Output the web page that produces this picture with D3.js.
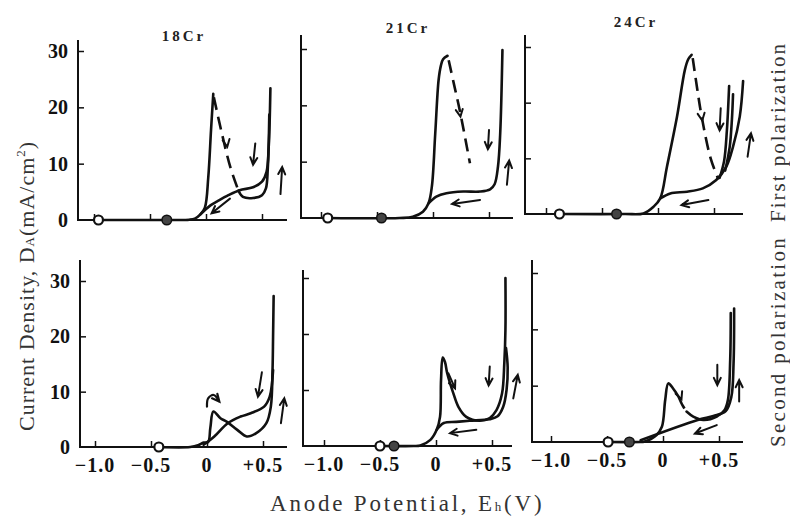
<!DOCTYPE html>
<html><head><meta charset="utf-8">
<script src="https://cdn.jsdelivr.net/npm/d3@7"></script>
<style>body{margin:0;background:#fff}svg{display:block}</style>
</head><body><svg id="c" width="790" height="518"></svg>
<script>
// ---------- data ----------
const titles = ["18Cr", "21Cr", "24Cr"];
const rowLabels = ["First polarization", "Second polarization"];
const yTickValues = [0, 10, 20, 30];
const xTickValues = [-1.0, -0.5, 0, 0.5];
const xTickLabels = ["−1.0", "−0.5", "0", "+0.5"];
const openCircleE = [-0.96, -0.94, -0.88, -0.43, -0.50, -0.49];
const filledCircleE = [-0.35, -0.46, -0.37, null, -0.375, -0.30];

// solid curves, [E (V), D (mA/cm2)]
const solid18Cr1st = [
  [[-0.96,0],[-0.3,0],[-0.15,0.05],[-0.1,0.25],[-0.05,1.0],[-0.01,2.2],[0.02,7.5],[0.045,16],[0.065,22.4]],
  [[0.29,5.2],[0.33,4.1],[0.42,3.9],[0.5,4.4],[0.535,5.6],[0.552,9.3],[0.565,18.7]],
  [[-0.05,1.0],[0.04,2.6],[0.1,3.3],[0.2,4.4],[0.3,5.3],[0.42,5.8],[0.5,6.8],[0.54,8.5],[0.56,13],[0.575,23.4]]
];
const solid21Cr1st = [
  [[-0.94,0],[-0.3,0],[-0.18,0.2],[-0.09,1.1],[-0.04,2.6],[-0.01,5.6],[0.02,15],[0.05,24.5],[0.07,27],[0.09,28.2],[0.13,28.8]],
  [[-0.04,2.6],[0.03,3.8],[0.12,4.4],[0.27,4.7],[0.42,4.7],[0.51,5.1],[0.55,6],[0.58,9.1],[0.6,15],[0.62,29.8]]
];
const solid24Cr1st = [
  [[-0.88,0],[-0.3,0],[-0.13,0.1],[-0.04,1.3],[0.02,2.8],[0.08,8.5],[0.17,17.5],[0.24,25.9],[0.27,27.8],[0.3,28.6]],
  [[0.02,2.8],[0.11,3.7],[0.26,4.0],[0.4,4.6],[0.52,6.1],[0.61,8.5],[0.67,12.1],[0.73,17.5],[0.76,23.9]],
  [[0.55,6.5],[0.59,9.5],[0.615,15],[0.635,23]],
  [[0.6,7.8],[0.64,12],[0.66,17],[0.67,21.5]]
];
const solid18Cr2nd = [
  [[-0.43,0],[-0.15,0],[-0.08,0.3],[-0.03,0.8],[0.01,0.9],[0.03,3.5],[0.057,6.4],[0.12,5.2],[0.175,4.6],[0.27,3.1],[0.355,1.9],[0.44,2.5],[0.53,4.3],[0.57,7.3],[0.585,13.9],[0.59,20],[0.595,27.3]],
  [[-0.03,0.4],[0.065,1.9],[0.185,4.3],[0.3,5.5],[0.39,6.1],[0.51,7.3],[0.56,9.1],[0.59,13.9]]
];
const solid21Cr2nd = [
  [[-0.5,0],[-0.2,0],[-0.14,0.1],[-0.05,1.1],[0.006,2.9],[0.036,5.2],[0.045,11.8],[0.06,15.8],[0.08,15],[0.1,13],[0.155,9.4],[0.2,7],[0.27,5.2],[0.39,4.5],[0.48,5],[0.54,6.4],[0.59,9.4],[0.61,14.8],[0.62,20.8],[0.62,30]],
  [[0.625,17.5],[0.64,14],[0.63,10],[0.6,7],[0.55,5.3],[0.48,4.8],[0.3,4.5],[0.18,4.3],[0.07,4.1],[0.006,2.9]]
];
const solid24Cr2nd = [
  [[-0.49,0],[-0.2,0],[-0.17,0.05],[-0.06,1.2],[-0.01,2.7],[0.02,7.5],[0.047,10.4],[0.09,9.5],[0.14,8]],
  [[0.21,5.4],[0.27,4.5],[0.36,3.9],[0.48,4.5],[0.55,5.7],[0.58,7.5],[0.6,14.6],[0.605,22.9]],
  [[0.635,23.7],[0.63,14],[0.61,8],[0.56,5.5],[0.45,4.6],[0.31,3.9],[-0.2,0.3]]
];
const solidCurves = [solid18Cr1st, solid21Cr1st, solid24Cr1st, solid18Cr2nd, solid21Cr2nd, solid24Cr2nd];

// dashed curves
const dashedCurves = [
  [[[0.07,21.8],[0.14,15.5],[0.22,9.2],[0.29,5.2]]],
  [[[0.14,28],[0.19,23.5],[0.24,19],[0.33,9.7]]],
  [[[0.31,28],[0.35,22.5],[0.39,17.5],[0.47,10],[0.54,6.2]]],
  [],
  [],
  [[[0.14,8],[0.175,6.5],[0.21,5.4]]]
];

// arrows [E1, D1, E2, D2] (head at 2nd point)
const arrowSets = [
  [[0.44,13.6,0.42,9.8],[0.665,4.6,0.68,9.4],[0.214,3.8,0.05,1.2]],
  [[0.5,15.6,0.49,12.2],[0.66,5.9,0.68,10.2],[0.42,3.2,0.17,2.5]],
  [[0.56,19,0.55,15],[0.8,10.3,0.83,14.5],[0.45,2.5,0.21,1.6]],
  [[0.49,13.5,0.455,9.1],[0.66,4.3,0.69,8.8]],
  [[0.48,14.2,0.47,10.8],[0.69,8.5,0.73,12.7],[0.11,13,0.17,10.3],[0.36,2.9,0.125,2.3]],
  [[0.485,13.7,0.485,10.1],[0.68,7.2,0.68,11],[0.48,3,0.285,1.5]]
];
// arrow heads sitting on dashed lines (direction only)
const headSets = [
  [[0.16,16.5,0.19,13]],
  [[0.22,21,0.245,18]],
  [[0.37,20,0.395,16.8]],
  [],
  [],
  [[0.13,9.4,0.165,7.6]]
];
// hooked arrow (18Cr, second polarization)
const hookArrow = [[0.0,7.3],[0.01,8.8],[0.06,9.4],[0.11,8.2]];

// ---------- layout ----------
const layout = [
  {x0:206, y0:220, y30:51,  left:78,  right:287, top:40},
  {x0:433, y0:218, y30:49,  left:301, right:513, top:35},
  {x0:658, y0:214, y30:47,  left:525, right:743, top:35},
  {x0:207, y0:447, y30:281, left:80,  right:287, top:260},
  {x0:436, y0:446, y30:278, left:303, right:512, top:270},
  {x0:663, y0:442, y30:273, left:532, right:743, top:260}
];
const titlePos = [[184,41],[408,33],[636,27]];
const serif = "'Liberation Serif', 'DejaVu Serif', serif";

const svg = d3.select("#c");

layout.forEach((L, p) => {
  const x = d3.scaleLinear().domain([0, 0.5]).range([L.x0, L.x0 + 56]);
  const y = d3.scaleLinear().domain([0, 30]).range([L.y0, L.y30]);
  const g = svg.append("g");
  const row = Math.floor(p / 3), col = p % 3;

  // axes lines
  g.append("line").attr("x1", L.left).attr("x2", L.left).attr("y1", L.y0 + 1).attr("y2", L.top)
    .attr("stroke", "#111").attr("stroke-width", 2);
  g.append("line").attr("x1", L.left - 1).attr("x2", L.right).attr("y1", L.y0).attr("y2", L.y0)
    .attr("stroke", "#111").attr("stroke-width", 2);

  // y ticks (inward)
  const yAx = d3.axisLeft(y).tickValues(yTickValues.filter(v => v > 0)).tickSize(-6).tickFormat("");
  const yg = g.append("g").attr("transform", `translate(${L.left},0)`).call(yAx);
  yg.select(".domain").remove();
  yg.selectAll("line").attr("stroke", "#111").attr("stroke-width", 1.5);

  // x ticks (inward)
  const xAx = d3.axisBottom(x).tickValues(xTickValues).tickSize(-6).tickFormat("");
  const xg = g.append("g").attr("transform", `translate(0,${L.y0})`).call(xAx);
  xg.select(".domain").remove();
  xg.selectAll("line").attr("stroke", "#111").attr("stroke-width", 1.5);

  // y tick labels in left column
  if (col === 0) {
    yTickValues.forEach(v => {
      g.append("text").attr("x", L.left - 10).attr("y", y(v) + 7)
        .attr("text-anchor", "end").attr("font-family", serif).attr("font-weight", "bold")
        .attr("font-size", 20).attr("fill", "#111").text(v);
    });
  }
  // x tick labels in bottom row
  if (row === 1) {
    xTickValues.forEach((v, k) => {
      g.append("text").attr("x", x(v)).attr("y", L.y0 + 25)
        .attr("text-anchor", "middle").attr("font-family", serif).attr("font-weight", "bold")
        .attr("font-size", 20).attr("letter-spacing", 1).attr("fill", "#111").text(xTickLabels[k]);
    });
  }
  // titles
  if (row === 0) {
    g.append("text").attr("x", titlePos[col][0]).attr("y", titlePos[col][1])
      .attr("text-anchor", "middle").attr("font-family", serif).attr("font-weight", "bold")
      .attr("font-size", 15).attr("letter-spacing", 3).attr("fill", "#222").text(titles[col]);
  }

  const line = d3.line().x(d => x(d[0])).y(d => y(d[1])).curve(d3.curveCatmullRom.alpha(0.5));

  solidCurves[p].forEach(c => {
    g.append("path").attr("d", line(c)).attr("fill", "none").attr("stroke", "#111")
      .attr("stroke-width", 2.6).attr("stroke-linejoin", "round").attr("stroke-linecap", "round");
  });
  dashedCurves[p].forEach(c => {
    g.append("path").attr("d", line(c)).attr("fill", "none").attr("stroke", "#111")
      .attr("stroke-width", 2.6).attr("stroke-dasharray", "13,7");
  });

  function head(x1, y1, x2, y2) {
    const a = Math.atan2(y2 - y1, x2 - x1), len = 8, sp = 0.45;
    return `M${x2 - len * Math.cos(a - sp)},${y2 - len * Math.sin(a - sp)}L${x2},${y2}L${x2 - len * Math.cos(a + sp)},${y2 - len * Math.sin(a + sp)}`;
  }
  arrowSets[p].forEach(a => {
    const [X1, Y1, X2, Y2] = [x(a[0]), y(a[1]), x(a[2]), y(a[3])];
    g.append("path").attr("d", `M${X1},${Y1}L${X2},${Y2}` + head(X1, Y1, X2, Y2))
      .attr("fill", "none").attr("stroke", "#111").attr("stroke-width", 2).attr("stroke-linecap", "round");
  });
  headSets[p].forEach(a => {
    const [X1, Y1, X2, Y2] = [x(a[0]), y(a[1]), x(a[2]), y(a[3])];
    g.append("path").attr("d", head(X1, Y1, X2, Y2))
      .attr("fill", "none").attr("stroke", "#111").attr("stroke-width", 2).attr("stroke-linecap", "round");
  });
  if (p === 3) {
    const pts = hookArrow.map(d => [x(d[0]), y(d[1])]);
    const n = pts.length;
    g.append("path").attr("d", line(hookArrow) + head(pts[n - 2][0], pts[n - 2][1], pts[n - 1][0], pts[n - 1][1]))
      .attr("fill", "none").attr("stroke", "#111").attr("stroke-width", 2.2).attr("stroke-linecap", "round");
  }

  // circles
  if (openCircleE[p] !== null) {
    g.append("circle").attr("cx", x(openCircleE[p])).attr("cy", y(0)).attr("r", 4.5)
      .attr("fill", "#fff").attr("stroke", "#111").attr("stroke-width", 2.2);
  }
  if (filledCircleE[p] !== null) {
    g.append("circle").attr("cx", x(filledCircleE[p])).attr("cy", y(0)).attr("r", 4.8)
      .attr("fill", "#444").attr("stroke", "#111").attr("stroke-width", 1.5);
  }
});

// axis titles
const yl = svg.append("text").attr("transform", "translate(34,431) rotate(-90)")
  .attr("text-anchor", "start").attr("font-family", serif).attr("font-size", 22)
  .attr("letter-spacing", 1.0).attr("fill", "#333");
yl.append("tspan").text("Current Density, D");
yl.append("tspan").attr("font-size", 13).text("A");
yl.append("tspan").text("(mA/cm");
yl.append("tspan").attr("font-size", 13).attr("dy", -9).text("2");
yl.append("tspan").attr("dy", 9).text(")");

const xl = svg.append("text").attr("x", 270).attr("y", 511)
  .attr("text-anchor", "start").attr("font-family", serif).attr("font-size", 23)
  .attr("letter-spacing", 2.8).attr("fill", "#333");
xl.append("tspan").text("Anode Potential, E");
xl.append("tspan").attr("font-size", 13).text("h");
xl.append("tspan").text("(V)");

svg.append("text").attr("transform", "translate(785,222) rotate(-90)")
  .attr("text-anchor", "start").attr("font-family", serif).attr("font-size", 21)
  .attr("letter-spacing", 2.0).attr("fill", "#333").text(rowLabels[0]);
svg.append("text").attr("transform", "translate(785,447) rotate(-90)")
  .attr("text-anchor", "start").attr("font-family", serif).attr("font-size", 21)
  .attr("letter-spacing", 2.3).attr("fill", "#333").text(rowLabels[1]);
</script></body></html>
